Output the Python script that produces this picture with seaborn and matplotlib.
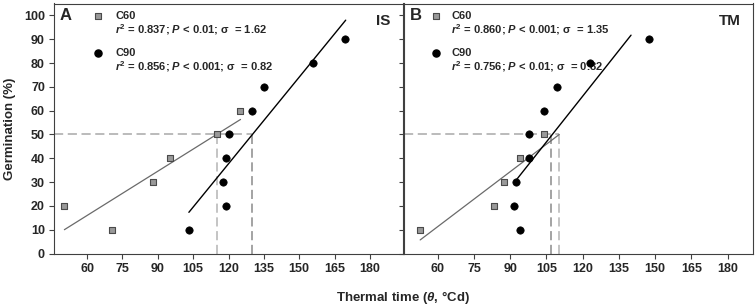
import matplotlib
matplotlib.use("Agg")
import matplotlib.pyplot as plt
import seaborn as sns
import pandas as pd

# ---------------- data ----------------
germ_c60_A = [20, 10, 30, 40, 50, 60]
theta_c60_A = [50.4, 70.5, 87.8, 95.3, 115.1, 124.8]
germ_c90_A = [10, 20, 30, 40, 50, 60, 70, 80, 90]
theta_c90_A = [103.2, 119.0, 117.6, 119.0, 120.3, 129.9, 135.2, 156.0, 169.4]
fit_c60_A_x = [50.4, 125.1]
fit_c60_A_y = [10.0, 56.3]
fit_c90_A_x = [103.2, 169.7]
fit_c90_A_y = [17.3, 98.0]
theta50_A = [115.1, 130.1]   # C60, C90

germ_c60_B = [10, 20, 30, 40, 50]
theta_c60_B = [52.7, 83.2, 87.6, 94.1, 103.9]
germ_c90_B = [10, 20, 30, 40, 50, 60, 70, 80, 90]
theta_c90_B = [94.1, 91.6, 92.4, 97.8, 97.8, 103.9, 109.4, 123.1, 147.3]
fit_c60_B_x = [52.7, 110.3]
fit_c60_B_y = [5.7, 50.0]
fit_c90_B_x = [91.8, 140.0]
fit_c90_B_y = [30.0, 91.7]
theta50_B = [110.3, 107.0]   # C60, C90

stats_A = [r"$r^2$ = 0.837; $P$ < 0.01; σ  = 1.62",
           r"$r^2$ = 0.856; $P$ < 0.001; σ  = 0.82"]
stats_B = [r"$r^2$ = 0.860; $P$ < 0.001; σ  = 1.35",
           r"$r^2$ = 0.756; $P$ < 0.01; σ  = 0.82"]
series_names = ["C60", "C90"]
xticks = [60, 75, 90, 105, 120, 135, 150, 165, 180]
yticks = list(range(0, 101, 10))

# ---------------- style ----------------
sns.set_theme(style="white")
plt.rcParams["font.family"] = ["Liberation Sans", "DejaVu Sans"]
plt.rcParams["font.weight"] = "bold"
plt.rcParams["mathtext.fontset"] = "custom"
plt.rcParams["mathtext.it"] = "Liberation Sans:italic:bold"
plt.rcParams["mathtext.rm"] = "Liberation Sans:bold"
plt.rcParams["mathtext.bf"] = "Liberation Sans:bold"

SQ_FACE = "#999999"
SQ_EDGE = "#4a4a4a"
SPINE = "#404040"

fig = plt.figure(figsize=(7.56, 3.08), dpi=100)
axA = fig.add_axes([54/756, 1-253.5/308, 349/756, 250/308])
axB = fig.add_axes([404/756, 1-253.5/308, 349/756, 250/308])


def panel(ax, tc60, gc60, tc90, gc90, fx60, fy60, fx90, fy90, t50, xlim,
          letter, site, stats, show_ylabels):
    xmin, xmax = xlim
    # dashed reference lines at 50 %
    ax.plot([xmin, max(t50)], [50, 50], ls=(0, (6, 3)), color="#a8a8a8",
            lw=1.1, zorder=1)
    ax.plot([t50[0], t50[0]], [0, 50], ls=(0, (6, 3)), color="#b4b4b4",
            lw=1.1, zorder=1)
    ax.plot([t50[1], t50[1]], [0, 50], ls=(0, (6, 3)), color="#8a8a8a",
            lw=1.1, zorder=1)
    # fitted lines
    sns.lineplot(x=fx60, y=fy60, ax=ax, color="#6a6a6a", lw=0.9,
                 estimator=None, sort=False, zorder=2)
    sns.lineplot(x=fx90, y=fy90, ax=ax, color="black", lw=1.0,
                 estimator=None, sort=False, zorder=2)
    # points
    sns.scatterplot(x=tc60, y=gc60, ax=ax, marker="s", s=22,
                    color=SQ_FACE, edgecolor=SQ_EDGE, linewidth=0.8, zorder=3)
    sns.scatterplot(x=tc90, y=gc90, ax=ax, marker="o", s=28,
                    color="black", edgecolor="black", linewidth=0.5, zorder=4)

    ax.set_xlim(xmin, xmax)
    ax.set_ylim(0, 105)
    ax.set_xticks(xticks)
    ax.set_yticks(yticks)
    ax.tick_params(axis="both", direction="out", length=3.5, width=0.8,
                   color=SPINE, labelsize=9, pad=3,
                   bottom=True, left=True, top=False, right=False)
    for lab in ax.get_xticklabels() + ax.get_yticklabels():
        lab.set_fontweight("bold")
    if not show_ylabels:
        ax.set_yticklabels([])
    for sp in ax.spines.values():
        sp.set_color(SPINE)
        sp.set_linewidth(0.8)
    ax.set_xlabel("")
    ax.set_ylabel("")

    # panel annotations (legend-like)
    lx = 0.126 if letter == "A" else 0.092
    tx = 0.175 if letter == "A" else 0.135
    ax.text(0.017, 0.951, letter, transform=ax.transAxes, fontsize=12,
            fontweight="bold", va="center", ha="left")
    ax.scatter([lx], [0.951], transform=ax.transAxes, marker="s", s=20,
               color=SQ_FACE, edgecolor=SQ_EDGE, linewidth=0.8, clip_on=False)
    ax.scatter([lx], [0.802], transform=ax.transAxes, marker="o", s=26,
               color="black", clip_on=False)
    ax.text(tx, 0.951, series_names[0], transform=ax.transAxes, fontsize=8,
            fontweight="bold", va="center", ha="left")
    ax.text(tx, 0.895, stats[0], transform=ax.transAxes, fontsize=8,
            fontweight="bold", va="center", ha="left")
    ax.text(tx, 0.802, series_names[1], transform=ax.transAxes, fontsize=8,
            fontweight="bold", va="center", ha="left")
    ax.text(tx, 0.746, stats[1], transform=ax.transAxes, fontsize=8,
            fontweight="bold", va="center", ha="left")
    ax.text(0.965, 0.93, site, transform=ax.transAxes, fontsize=11,
            fontweight="bold", va="center", ha="right")


panel(axA, theta_c60_A, germ_c60_A, theta_c90_A, germ_c90_A,
      fit_c60_A_x, fit_c60_A_y, fit_c90_A_x, fit_c90_A_y, theta50_A,
      (46, 194), "A", "IS", stats_A, True)
panel(axB, theta_c60_B, germ_c60_B, theta_c90_B, germ_c90_B,
      fit_c60_B_x, fit_c60_B_y, fit_c90_B_x, fit_c90_B_y, theta50_B,
      (46, 190.5), "B", "TM", stats_B, False)

axA.set_ylabel("Germination (%)", fontsize=9.5, fontweight="bold", labelpad=6)
fig.text(403.5/756, 1-298/308, r"Thermal time ($\theta$, °Cd)", fontsize=9.5,
         fontweight="bold", ha="center", va="center")

fig.savefig("out.png", dpi=100)
